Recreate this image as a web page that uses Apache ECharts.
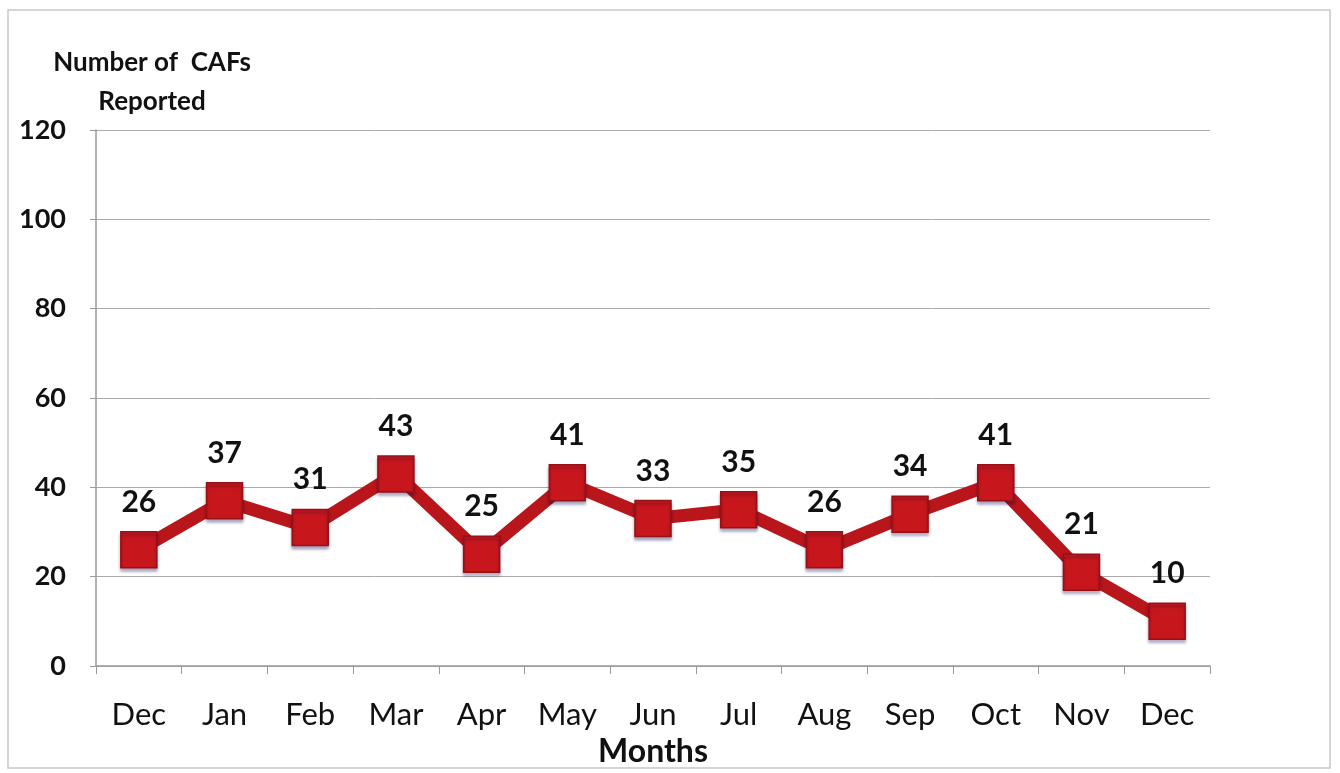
<!DOCTYPE html>
<html><head><meta charset="utf-8">
<script src="https://cdn.jsdelivr.net/npm/echarts@6/dist/echarts.min.js"></script>
<style>html,body{margin:0;padding:0;background:#fff}#c{width:1340px;height:773px}</style>
</head><body><div id="c"></div>
<script>
const categories = ['Dec','Jan','Feb','Mar','Apr','May','Jun','Jul','Aug','Sep','Oct','Nov','Dec'];
const cafs = [26,37,31,43,25,41,33,35,26,34,41,21,10];
const yTicks = [0,20,40,60,80,100,120];
const FONT = 'Lato, "Open Sans", sans-serif';
const chart = echarts.init(document.getElementById('c'));
chart.setOption({
  backgroundColor: '#fff',
  animation: false,
  graphic: [{type:'rect', shape:{x:8,y:10,width:1322,height:758}, style:{fill:'none', stroke:'#c8c8c8', lineWidth:1.5}, silent:true}],
  title: {text: 'Number of  CAFs\nReported', left: 147, top: 38, textAlign: 'center',
    textStyle: {fontFamily: FONT, fontSize: 26, fontWeight: 'bold', color: '#111', lineHeight: 39}},
  grid: {left: 96, right: 130, top: 130, bottom: 107},
  xAxis: {type: 'category', data: categories, boundaryGap: true,
    name: 'Months', nameLocation: 'middle', nameGap: 70,
    nameTextStyle: {fontFamily: FONT, fontSize: 32, fontWeight: 'bold', color: '#111'},
    axisLine: {lineStyle: {color: '#999', width: 1.5}},
    axisTick: {show: true, length: 8, lineStyle: {color: '#999'}},
    axisLabel: {fontFamily: FONT, fontSize: 31, color: '#111', margin: 33}},
  yAxis: {type: 'value', min: yTicks[0], max: yTicks[yTicks.length-1], interval: 20,
    axisLine: {show: true, lineStyle: {color: '#999', width: 1.5}},
    axisTick: {show: true, length: 6, lineStyle: {color: '#999'}},
    splitLine: {lineStyle: {color: '#aaa', width: 1}},
    axisLabel: {fontFamily: FONT, fontSize: 27, fontWeight: 'bold', color: '#111', margin: 30}},
  series: [{type: 'line', data: cafs, symbol: 'rect', symbolSize: 36,
    lineStyle: {color: '#b8161a', width: 13},
    itemStyle: {color: '#c8171c', borderColor: '#9a0f12', borderWidth: 1.5,
      shadowColor: 'rgba(0,0,80,0.35)', shadowOffsetY: 3, shadowBlur: 3},
    label: {show: true, position: 'top', distance: 14, fontFamily: FONT, fontSize: 30, fontWeight: 'bold', color: '#111'}}]
});
</script></body></html>
